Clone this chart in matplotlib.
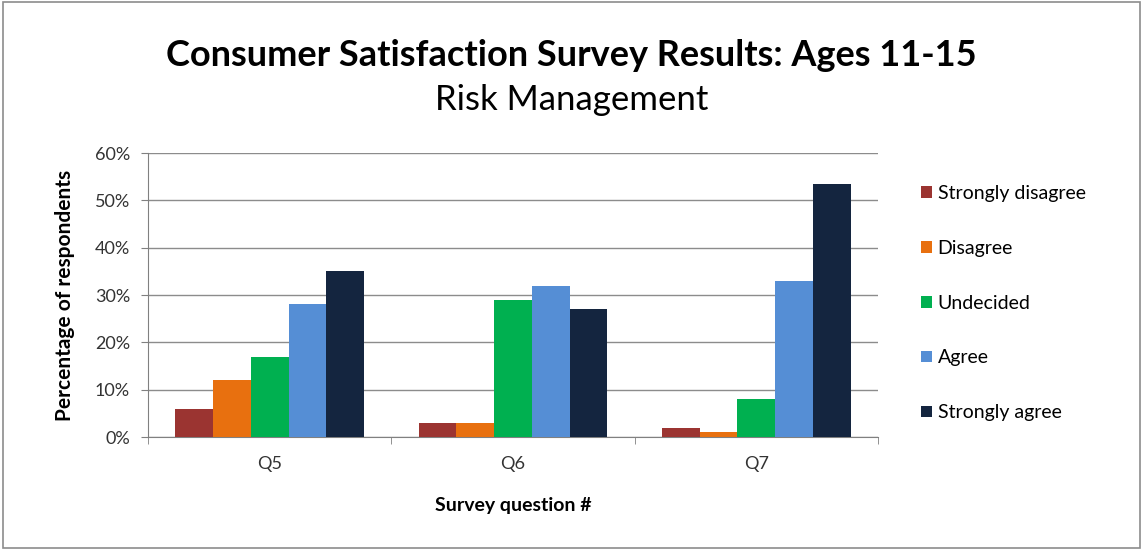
import numpy as np
import matplotlib
matplotlib.use("Agg")
import matplotlib.pyplot as plt
from matplotlib.patches import Rectangle
from matplotlib.ticker import PercentFormatter, FixedLocator

plt.rcParams["font.family"] = ["Lato", "DejaVu Sans"]

# Data
questions = ["Q5", "Q6", "Q7"]
responses = ["Strongly disagree", "Disagree", "Undecided", "Agree", "Strongly agree"]
strongly_disagree = [6, 3, 2]
disagree = [12, 3, 1]
undecided = [17, 29, 8]
agree = [28, 32, 33]
strongly_agree = [35, 27, 53.5]
colors = ["#9B3431", "#E8700F", "#00B050", "#558ED5", "#14253F"]

series = [strongly_disagree, disagree, undecided, agree, strongly_agree]

fig = plt.figure(figsize=(11.43, 5.5), dpi=100)
ax = fig.add_axes([148 / 1143, 1 - 437 / 550, 730 / 1143, 284 / 550])

# outer chart border
fig.patches.append(Rectangle((0.003, 0.004), 0.994, 0.992, transform=fig.transFigure,
                             fill=False, edgecolor="#8C8C8C", linewidth=1.2))

x = np.arange(len(questions))
bar_w = 0.155
for i, (vals, label, c) in enumerate(zip(series, responses, colors)):
    ax.bar(x + (i - 2) * bar_w, vals, width=bar_w, color=c, label=label, zorder=3)

ax.set_xlim(-0.5, 2.5)
ax.set_ylim(0, 60)
ax.set_yticks(np.arange(0, 61, 10))
ax.yaxis.set_major_formatter(PercentFormatter(decimals=0))
ax.set_xticks(x)
ax.set_xticklabels(questions)
ax.xaxis.set_minor_locator(FixedLocator([-0.5, 0.5, 1.5, 2.5]))
ax.tick_params(axis="x", which="major", length=0, pad=14, labelsize=13, labelcolor="#333333")
ax.tick_params(axis="x", which="minor", length=5, color="#808080", direction="out")
ax.tick_params(axis="y", length=5, color="#808080", labelsize=13, pad=8, labelcolor="#333333")

ax.grid(axis="y", color="#8C8C8C", linewidth=1.0, zorder=0)
for s in ["top", "right"]:
    ax.spines[s].set_visible(False)
ax.spines["left"].set_color("#808080")
ax.spines["bottom"].set_color("#808080")

ax.set_xlabel("Survey question #", fontsize=14, fontweight="bold", labelpad=18)
ax.set_ylabel("Percentage of respondents", fontsize=15, fontweight="bold", labelpad=14)

fig.text(0.5, 1 - 56 / 550, "Consumer Satisfaction Survey Results: Ages 11-15",
         ha="center", va="center", fontsize=26, fontweight="bold")
fig.text(0.5, 1 - 100 / 550, "Risk Management", ha="center", va="center", fontsize=25)

ax.legend(loc="upper left", bbox_to_anchor=(1.035, 0.95), frameon=False,
          fontsize=14, labelspacing=1.95, handlelength=0.55, handleheight=0.55,
          handletextpad=0.3)

fig.savefig("out.png", dpi=100)
